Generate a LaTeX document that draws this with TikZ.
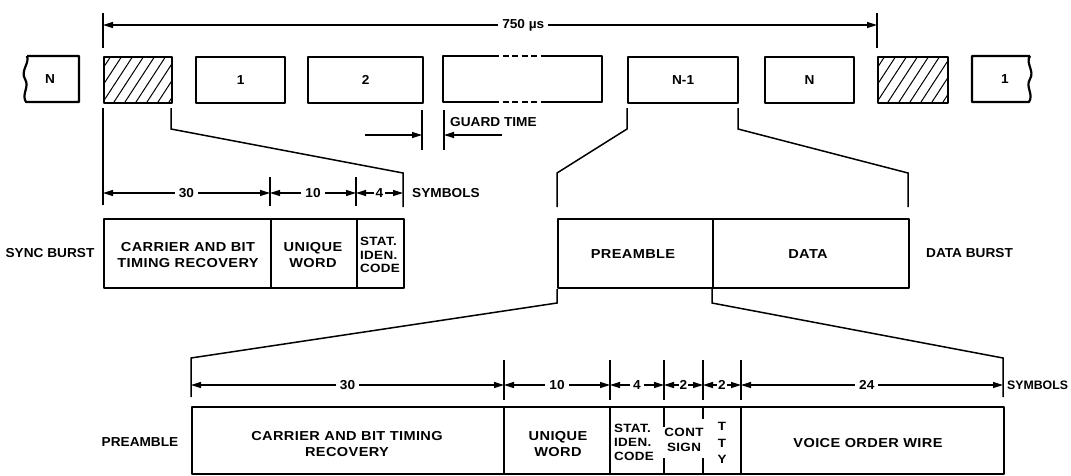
\documentclass[tikz,border=0pt]{standalone}
\usepackage{fontspec}
\setmainfont{Liberation Sans}
\newfontfamily\lblfont{Liberation Sans}[FakeStretch=1.05]
\newfontfamily\bxfont{Liberation Sans}[FakeStretch=1.12,LetterSpace=3]
\usetikzlibrary{arrows.meta}
\begin{document}
\begin{tikzpicture}[x=1pt,y=-1pt,
  frame/.style={draw,line width=2.2pt,line join=round},
  conn/.style={line width=1.5pt},
  tickline/.style={line width=1.5pt},
  tip/.tip={Triangle[length=10pt,width=6pt]},
  dimline/.style={line width=1.2pt,tip-tip},
  oneway/.style={line width=1.2pt,-tip},
  dimlab/.style={fill=white,inner xsep=4pt,inner ysep=1pt,font=\lblfont\bfseries\fontsize{13}{15}\selectfont},
  lab/.style={font=\lblfont\bfseries\fontsize{13}{15}\selectfont,inner sep=0},
  bxt/.style={font=\bxfont\bfseries\fontsize{13}{16}\selectfont,align=center,inner sep=0},
  slot/.style={frame,anchor=north west,minimum height=46pt,inner sep=0,font=\lblfont\bfseries\fontsize{13}{15}\selectfont},
  cell/.style={frame,anchor=north west,minimum height=69pt,inner sep=0}
]
\useasboundingbox[fill=white] (0,0) rectangle (1071,475);

% ---------------- top row of slots ----------------
\node[lab] (sN0) at (50,79) {N};
\draw[frame] (27,56) -- (79,56) -- (79,102) -- (26,102)
  .. controls (21,94) and (30,87) .. (25,79)
  .. controls (20,71) and (30,63) .. (27,56);
\begin{scope}
  \clip (103,56) rectangle (171,102);
  \foreach \i in {-33,-22,...,77} \draw[line width=1pt] (103+\i,102) -- ++(30,-46);
\end{scope}
\node[slot,minimum width=68pt] (sync1) at (103,56) {};
\node[slot,minimum width=89pt] (s1) at (195,56) {1};
\node[slot,minimum width=115pt] (s2) at (307,56) {2};
\node[anchor=north west,minimum width=159pt,minimum height=46pt,inner sep=0] (sdots) at (443,56) {};
\draw[frame] (493,56) -- (443,56) -- (443,102) -- (493,102);
\draw[frame] (543,56) -- (602,56) -- (602,102) -- (543,102);
\draw[frame,dash pattern=on 6pt off 3.5pt] (493,56) -- (543,56);
\draw[frame,dash pattern=on 6pt off 3.5pt] (493,102) -- (543,102);
\node[slot,minimum width=110pt] (sN1) at (627,56) {N-1};
\node[slot,minimum width=89pt] (sN) at (764,56) {N};
\begin{scope}
  \clip (877,56) rectangle (947,102);
  \foreach \i in {-33,-22,...,77} \draw[line width=1pt] (877+\i,102) -- ++(30,-46);
\end{scope}
\node[slot,minimum width=70pt] (sync2) at (877,56) {};
\node[lab] (s1r) at (1005,79) {1};
\draw[frame] (1030,56) -- (972,56) -- (972,102) -- (1029,102)
  .. controls (1034,94) and (1025,87) .. (1030,79)
  .. controls (1035,71) and (1025,63) .. (1030,56);

% ---------------- frame length ----------------
\coordinate (fL) at (103,25);
\coordinate (fR) at (877,25);
\draw[tickline] (103,13) -- (103,48);
\draw[tickline] (877,13) -- (877,48);
\draw[dimline,line width=1.4pt] (fL) -- node[dimlab,pos=0.543] (f750) {750 µs} (fR);

% ---------------- guard time ----------------
\coordinate (gL) at (422,135);
\coordinate (gR) at (444,135);
\draw[tickline] (422,110) -- (422,150);
\draw[tickline] (444,110) -- (444,150);
\coordinate (gLs) at (365,135);
\coordinate (gRs) at (502,135);
\draw[oneway] (gLs) -- (gL);
\draw[oneway] (gRs) -- (gR);
\node[lab,anchor=west] (guard) at (450,122) {GUARD TIME};

% ---------------- sync burst ----------------
\draw[conn] (103,108) -- (103,205);
\draw[conn] (171,108) -- (171,129) -- (403,173) -- (403,207);
\draw[tickline] (270,177) -- (270,206);
\draw[tickline] (356,177) -- (356,206);
\coordinate (a0) at (103,193);
\coordinate (a1) at (270,193);
\coordinate (a2) at (356,193);
\coordinate (a3) at (403,193);
\draw[dimline] (a0) -- node[dimlab] {30} (a1);
\draw[dimline] (a1) -- node[dimlab] {10} (a2);
\draw[dimline] (a2) -- node[dimlab,inner xsep=2pt] {4} (a3);
\node[lab,anchor=west] (sym1) at (412,193) {SYMBOLS};

\node[cell,minimum width=167pt] (sc1) at (103,218) {};
\node[cell,minimum width=86pt] (sc2) at (270,218) {};
\node[cell,minimum width=47pt] (sc3) at (356,218) {};
\node[bxt] (sc1t) at (188,255) {CARRIER AND BIT\\TIMING RECOVERY};
\node[bxt] (sc2t) at (313,255) {UNIQUE\\WORD};
\node[bxt,align=left,font=\bxfont\bfseries\fontsize{12}{13.5}\selectfont] (sc3t) at (380,255) {STAT.\\IDEN.\\CODE};
\node[lab] (syncb) at (50,253) {SYNC BURST};

% ---------------- data burst ----------------
\draw[conn] (627,108) -- (627,129) -- (557,173) -- (557,207);
\draw[conn] (738,108) -- (738,129) -- (908,173) -- (908,207);
\node[cell,minimum width=155pt] (dc1) at (557,218) {};
\node[cell,minimum width=196pt] (dc2) at (712,218) {};
\node[bxt] (dc1t) at (633,254) {PREAMBLE};
\node[bxt] (dc2t) at (808,254) {DATA};
\node[lab,anchor=west] (datab) at (926,253) {DATA BURST};

% ---------------- preamble detail ----------------
\draw[conn] (dc1.south west) -- (557,303) -- (191,358) -- (191,397);
\draw[conn] (dc2.south west) -- (712,303) -- (1003,358) -- (1003,397);
\foreach \x in {504,610,664,703,741} \draw[tickline] (\x,360) -- (\x,400);
\coordinate (b0) at (191,385);
\coordinate (b1) at (504,385);
\coordinate (b2) at (610,385);
\coordinate (b3) at (664,385);
\coordinate (b4) at (703,385);
\coordinate (b5) at (741,385);
\coordinate (b6) at (1003,385);
\draw[dimline] (b0) -- node[dimlab] {30} (b1);
\draw[dimline] (b1) -- node[dimlab] {10} (b2);
\draw[dimline] (b2) -- node[dimlab,inner xsep=3pt] {4} (b3);
\draw[dimline] (b3) -- node[dimlab,inner xsep=1pt] {2} (b4);
\draw[dimline] (b4) -- node[dimlab,inner xsep=1pt] {2} (b5);
\draw[dimline] (b5) -- node[dimlab,pos=0.48] {24} (b6);
\node[lab,anchor=west,font=\bfseries\fontsize{12.3}{15}\selectfont] (sym2) at (1007,385) {SYMBOLS};

\node[frame,anchor=north west,minimum width=812pt,minimum height=67pt,inner sep=0] (pb) at (191,406) {};
\draw[frame] (504,406) -- (504,473);
\draw[frame] (610,406) -- (610,473);
\draw[frame] (741,406) -- (741,473);
\draw[frame] (664,406) -- (664,427);
\draw[frame] (664,458) -- (664,473);
\draw[frame] (703,406) -- (703,419);
\draw[frame] (703,458) -- (703,473);
\node[bxt] (p1) at (347,444) {CARRIER AND BIT TIMING\\RECOVERY};
\node[bxt] (p2) at (558,444) {UNIQUE\\WORD};
\node[bxt,align=left,font=\bxfont\bfseries\fontsize{12}{14}\selectfont] (p3) at (634,442) {STAT.\\IDEN.\\CODE};
\node[bxt,font=\bxfont\bfseries\fontsize{12}{15}\selectfont] (p4) at (684,440) {CONT\\SIGN};
\node[bxt,font=\bxfont\bfseries\fontsize{12}{16.5}\selectfont] (p5) at (722,443) {T\\T\\Y};
\node[bxt] (p6) at (868,443) {VOICE ORDER WIRE};
\node[lab] (pre) at (140,442) {PREAMBLE};
\end{tikzpicture}
\end{document}
